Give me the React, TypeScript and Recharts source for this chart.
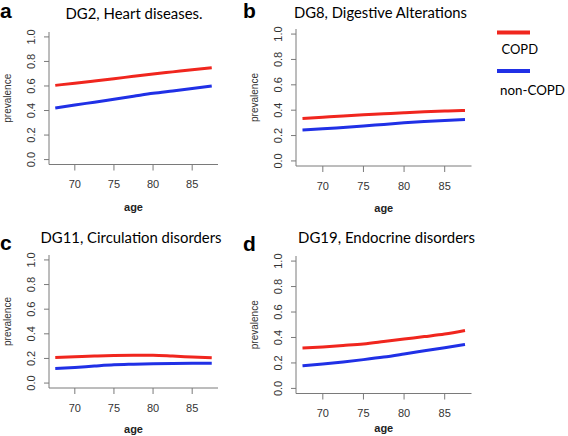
import { LineChart, Line, XAxis, YAxis, Label } from "recharts";

const AGES = [67.5, 70, 72.5, 75, 77.5, 80, 82.5, 85, 87.5];
const AGE_TICKS = [70, 75, 80, 85];
const PREV_TICKS = [0, 0.2, 0.4, 0.6, 0.8, 1.0];

// DG2, Heart diseases
const DG2_COPD = [0.605, 0.623, 0.641, 0.659, 0.679, 0.698, 0.715, 0.732, 0.748];
const DG2_NON = [0.42, 0.445, 0.468, 0.492, 0.516, 0.54, 0.56, 0.58, 0.6];
// DG8, Digestive Alterations
const DG8_COPD = [0.335, 0.345, 0.355, 0.364, 0.372, 0.38, 0.387, 0.393, 0.398];
const DG8_NON = [0.244, 0.253, 0.264, 0.275, 0.288, 0.3, 0.31, 0.319, 0.327];
// DG11, Circulation disorders
const DG11_COPD = [0.208, 0.213, 0.219, 0.224, 0.226, 0.225, 0.219, 0.212, 0.206];
const DG11_NON = [0.119, 0.127, 0.138, 0.148, 0.153, 0.157, 0.159, 0.16, 0.16];
// DG19, Endocrine disorders
const DG19_COPD = [0.318, 0.326, 0.337, 0.349, 0.368, 0.388, 0.407, 0.427, 0.455];
const DG19_NON = [0.178, 0.192, 0.208, 0.226, 0.246, 0.27, 0.295, 0.32, 0.345];

const RED = "#f0261e";
const BLUE = "#2030e6";
const BOX = "#7a7a7a";
const AXIS_FONT = "'Liberation Sans', Arial, sans-serif";
const TITLE_FONT = "Lato, 'Open Sans', sans-serif";

const X_DOMAIN: [number, number] = [66.7, 88.3];
const Y_DOMAIN: [number, number] = [-0.04, 1.04];
const Y_AXIS_W = 48;
const X_AXIS_H = 50;
const PAD_TOP = 10;
const PAD_RIGHT = 3;

const toRows = (copd: number[], non: number[]) =>
  AGES.map((age, i) => ({ age, copd: copd[i], non: non[i] }));

const RotatedTick = (props: any) => {
  const { x, y, payload } = props;
  return (
    <text
      x={x}
      y={y}
      transform={`rotate(-90 ${x} ${y})`}
      textAnchor="middle"
      fontSize={11}
      fontFamily={AXIS_FONT}
      fill="#333"
    >
      {Number(payload.value).toFixed(1)}
    </text>
  );
};

type PanelProps = {
  left: number;
  top: number;
  w: number;
  h: number;
  ageOffset: number;
  copd: number[];
  non: number[];
};

function Panel({ left, top, w, h, ageOffset, copd, non }: PanelProps) {
  const data = toRows(copd, non);
  return (
    <div style={{ position: "absolute", left: left - Y_AXIS_W, top: top - PAD_TOP }}>
      <LineChart
        width={w + Y_AXIS_W + PAD_RIGHT}
        height={h + X_AXIS_H + PAD_TOP}
        data={data}
        margin={{ top: PAD_TOP, right: PAD_RIGHT, bottom: 0, left: 0 }}
      >
        <XAxis
          dataKey="age"
          type="number"
          domain={X_DOMAIN}
          ticks={AGE_TICKS}
          interval={0}
          allowDataOverflow
          height={X_AXIS_H}
          axisLine={{ stroke: BOX }}
          tickSize={6}
          tickMargin={10}
          tickLine={{ stroke: BOX }}
          tick={{ fontSize: 11, fontFamily: AXIS_FONT, fill: "#333" }}
        >
          <Label
            value="age"
            position="insideBottom"
            offset={ageOffset}
            style={{ fontSize: 11, fontWeight: "bold", fontFamily: AXIS_FONT, fill: "#222" }}
          />
        </XAxis>
        {/* top and right axes only close the frame */}
        <XAxis
          xAxisId="top"
          orientation="top"
          dataKey="age"
          type="number"
          domain={X_DOMAIN}
          allowDataOverflow
          height={0}
          tick={false}
          tickLine={false}
          axisLine={{ stroke: BOX }}
        />
        <YAxis
          type="number"
          domain={Y_DOMAIN}
          ticks={PREV_TICKS}
          interval={0}
          allowDataOverflow
          width={Y_AXIS_W}
          axisLine={{ stroke: BOX }}
          tickSize={5}
          tickMargin={9}
          tickLine={{ stroke: BOX }}
          tick={<RotatedTick />}
        >
          <Label
            value="prevalence"
            angle={-90}
            position="insideLeft"
            offset={6}
            style={{ textAnchor: "middle", fontSize: 10, fontFamily: AXIS_FONT, fill: "#333" }}
          />
        </YAxis>
        <YAxis
          yAxisId="right"
          orientation="right"
          type="number"
          domain={Y_DOMAIN}
          allowDataOverflow
          width={0}
          tick={false}
          tickLine={false}
          axisLine={{ stroke: BOX }}
        />
        <Line type="monotone" dataKey="copd" stroke={RED} strokeWidth={3} dot={false} isAnimationActive={false} />
        <Line type="monotone" dataKey="non" stroke={BLUE} strokeWidth={3} dot={false} isAnimationActive={false} />
      </LineChart>
    </div>
  );
}

export default function App() {
  const title = { fontFamily: TITLE_FONT, fontSize: 14.5, fill: "#000", textAnchor: "middle" as const };
  const letter = { fontFamily: AXIS_FONT, fontSize: 21, fontWeight: "bold" as const, fill: "#000" };
  const legendText = { fontFamily: TITLE_FONT, fontSize: 13.5, fill: "#000" };
  return (
    <div style={{ position: "absolute", left: 0, top: 0, width: 568, height: 436, background: "#fff" }}>
      <Panel left={49} top={31.5} w={169} h={132.5} ageOffset={3.5} copd={DG2_COPD} non={DG2_NON} />
      <Panel left={295.5} top={28.5} w={175.5} h={137} ageOffset={4} copd={DG8_COPD} non={DG8_NON} />
      <Panel left={49} top={254.5} w={169} h={133} ageOffset={5} copd={DG11_COPD} non={DG11_NON} />
      <Panel left={296} top={256} w={175.5} h={137.5} ageOffset={11.5} copd={DG19_COPD} non={DG19_NON} />
      <svg
        width={568}
        height={436}
        style={{ position: "absolute", left: 0, top: 0, pointerEvents: "none" }}
      >
        <text x={0} y={18} style={letter}>a</text>
        <text x={243} y={18} style={letter}>b</text>
        <text x={0} y={250} style={letter}>c</text>
        <text x={243} y={251} style={letter}>d</text>

        <text x={134} y={19} textLength={137} lengthAdjust="spacingAndGlyphs" style={title}>
          DG2, Heart diseases.
        </text>
        <text x={380.5} y={18.3} textLength={173} lengthAdjust="spacingAndGlyphs" style={title}>
          DG8, Digestive Alterations
        </text>
        <text x={131} y={243.3} textLength={181} lengthAdjust="spacingAndGlyphs" style={title}>
          DG11, Circulation disorders
        </text>
        <text x={386.5} y={242.5} textLength={177} lengthAdjust="spacingAndGlyphs" style={title}>
          DG19, Endocrine disorders
        </text>

        {/* legend */}
        <line x1={497} x2={530} y1={32.5} y2={32.5} stroke={RED} strokeWidth={4} />
        <text x={501.5} y={54} textLength={36.5} lengthAdjust="spacingAndGlyphs" style={legendText}>
          COPD
        </text>
        <line x1={497} x2={530} y1={71} y2={71} stroke={BLUE} strokeWidth={4} />
        <text x={500} y={94.5} textLength={65} lengthAdjust="spacingAndGlyphs" style={legendText}>
          non-COPD
        </text>
      </svg>
    </div>
  );
}
